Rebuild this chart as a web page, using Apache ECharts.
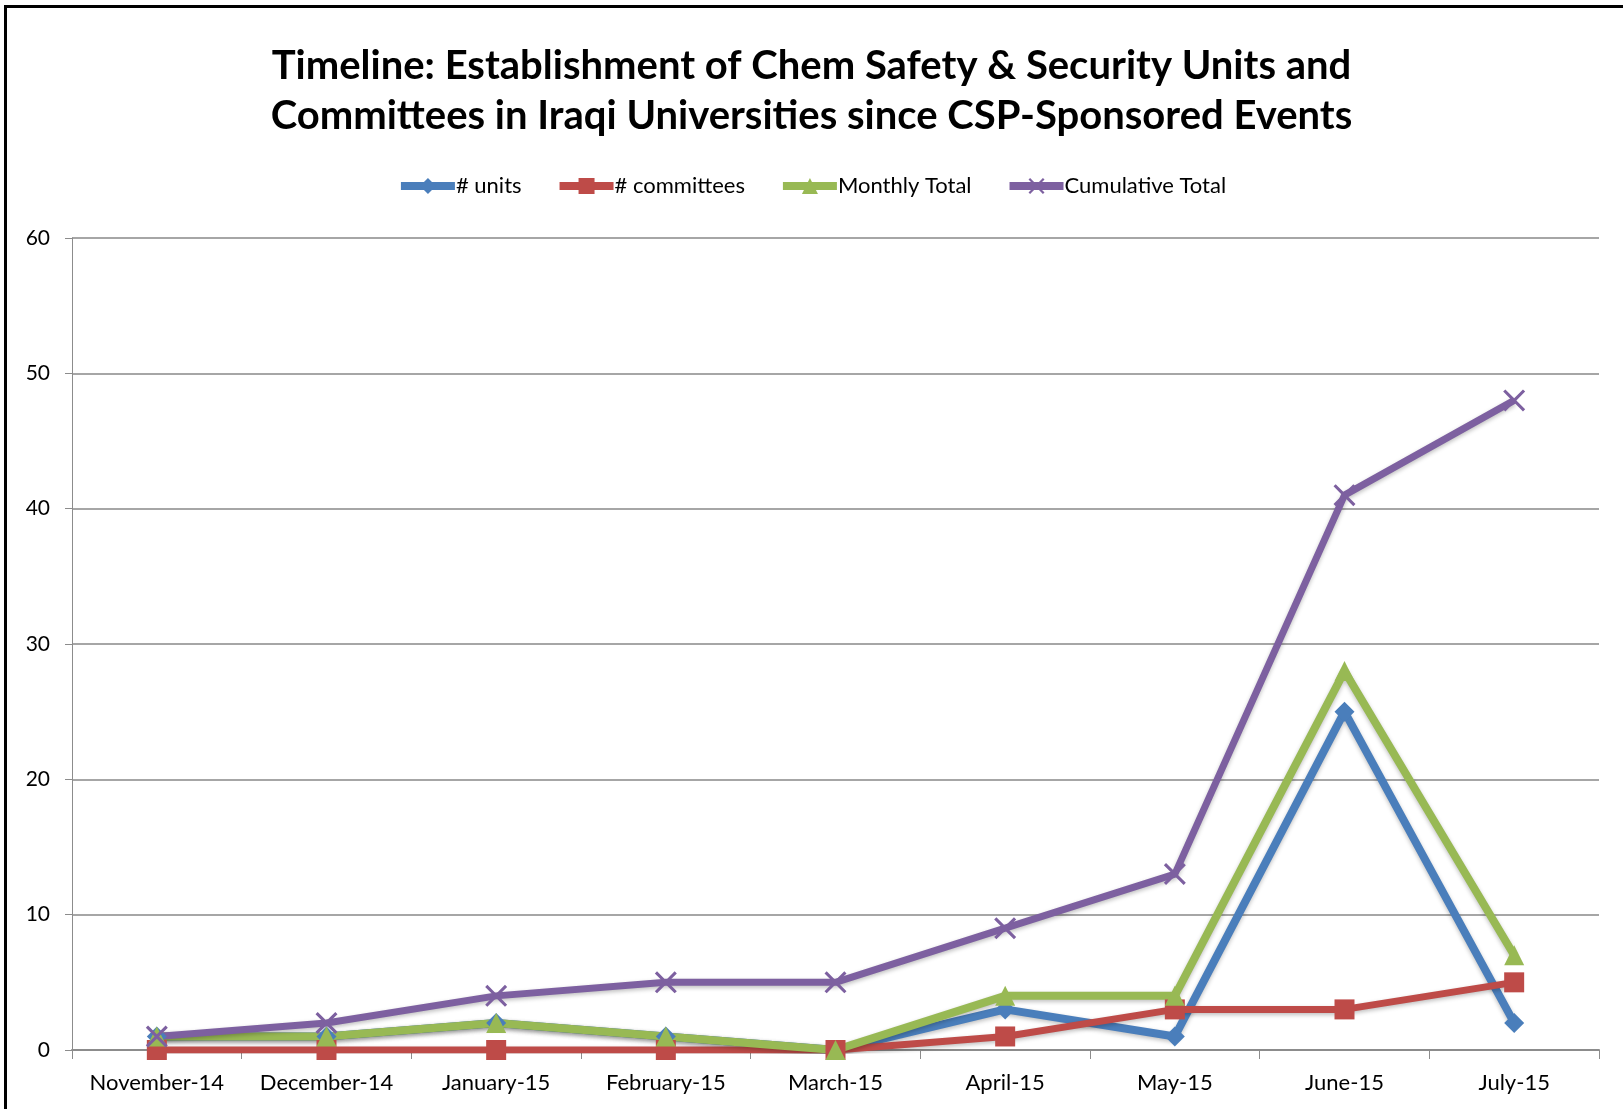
<!DOCTYPE html>
<html>
<head>
<meta charset="utf-8">
<script src="https://cdn.jsdelivr.net/npm/echarts@6/dist/echarts.min.js"></script>
<style>
  html, body { margin: 0; padding: 0; background: #fff; }
  #chart { position: absolute; left: 0; top: 0; width: 1623px; height: 1109px; }
  #frame { position: absolute; left: 4px; top: 5px; width: 1700px; height: 1200px; border: 3px solid #000; z-index: 10; pointer-events: none; }
</style>
</head>
<body>
<div id="chart"></div>
<div id="frame"></div>
<script>
const months = ['November-14', 'December-14', 'January-15', 'February-15', 'March-15', 'April-15', 'May-15', 'June-15', 'July-15']
const units = [1, 1, 2, 1, 0, 3, 1, 25, 2]
const committees = [0, 0, 0, 0, 0, 1, 3, 3, 5]
const monthlyTotal = [1, 1, 2, 1, 0, 4, 4, 28, 7]
const cumulativeTotal = [1, 2, 4, 5, 5, 9, 13, 41, 48]

const FONT = 'Lato'
const crossPath = 'path://M0,1L1,0L5,4L9,0L10,1L6,5L10,9L9,10L5,6L1,10L0,9L4,5Z'

const chart = echarts.init(document.getElementById('chart'))

function lineSeries(name, data, color, width, symbol, size) {
  return {
    name: name,
    type: 'line',
    data: data,
    symbol: symbol,
    symbolSize: size,
    showAllSymbol: true,
    lineStyle: { color: color, width: width, shadowColor: 'rgba(0,0,0,0.25)', shadowBlur: 4, shadowOffsetY: 2 },
    itemStyle: { color: color },
    emphasis: { disabled: true },
    animation: false
  }
}

const option = {
  backgroundColor: '#fff',
  title: {
    text: 'Timeline: Establishment of Chem Safety & Security Units and\nCommittees in Iraqi Universities since CSP-Sponsored Events',
    left: 'center',
    top: 36,
    textStyle: { fontFamily: FONT, fontWeight: 'bold', fontSize: 40, lineHeight: 50, color: '#000' }
  },
  legend: {
    top: 170,
    left: 'center',
    itemWidth: 54,
    itemHeight: 20,
    itemGap: 34,
    lineStyle: { width: 8 },
    textStyle: { fontFamily: FONT, fontSize: 22, color: '#000', padding: [0, 0, 0, -4] },
    data: ['# units', '# committees', 'Monthly Total', 'Cumulative Total']
  },
  grid: { left: 72, right: 24, top: 238, bottom: 59, containLabel: false },
  xAxis: {
    type: 'category',
    data: months,
    boundaryGap: true,
    axisLine: { lineStyle: { color: '#8c8c8c', width: 2 } },
    axisTick: { show: true, length: 9, lineStyle: { color: '#8c8c8c', width: 1 } },
    axisLabel: { fontFamily: FONT, fontSize: 22, color: '#000', margin: 22, interval: 0 }
  },
  yAxis: {
    type: 'value',
    min: 0,
    max: 60,
    interval: 10,
    axisLine: { show: true, lineStyle: { color: '#8c8c8c', width: 1 } },
    axisTick: { show: true, length: 7, lineStyle: { color: '#8c8c8c' } },
    axisLabel: { fontFamily: FONT, fontSize: 21, color: '#000', margin: 22 },
    splitLine: { lineStyle: { color: '#a6a6a6', width: 2 } }
  },
  series: [
    lineSeries('# units', units, '#4a7ebb', 8, 'diamond', 20),
    lineSeries('# committees', committees, '#be4b48', 7, 'rect', 20),
    lineSeries('Monthly Total', monthlyTotal, '#98b954', 8, 'triangle', 20),
    lineSeries('Cumulative Total', cumulativeTotal, '#7d60a0', 7, crossPath, 22)
  ]
}

chart.setOption(option)
</script>
</body>
</html>
